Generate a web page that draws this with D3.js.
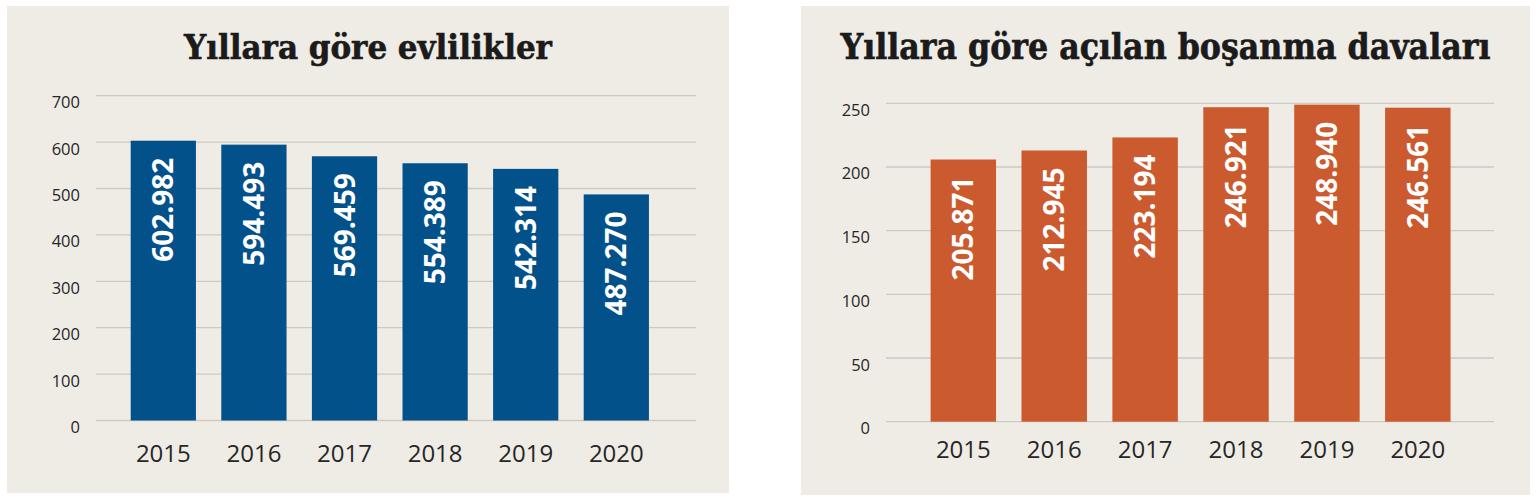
<!DOCTYPE html>
<html>
<head>
<meta charset="utf-8">
<script src="https://cdn.jsdelivr.net/npm/d3@7"></script>
<style>
  html, body { margin: 0; padding: 0; background: #ffffff; }
  svg { display: block; }
</style>
</head>
<body>
<svg id="chart" width="1536" height="501"></svg>
<script>
const years = ["2015", "2016", "2017", "2018", "2019", "2020"];
const marriages = [602982, 594493, 569459, 554389, 542314, 487270];
const divorces = [205871, 212945, 223194, 246921, 248940, 246561];
const marriageTicks = [0, 100, 200, 300, 400, 500, 600, 700];
const divorceTicks = [0, 50, 100, 150, 200, 250];
const titles = ["Yıllara göre evlilikler", "Yıllara göre açılan boşanma davaları"];

const svg = d3.select("#chart");
const fmt = v => d3.format(",")(v).replace(/,/g, ".");

function panel(cfg) {
  const g = svg.append("g");
  g.append("rect")
    .attr("x", cfg.px).attr("y", cfg.py)
    .attr("width", cfg.pw).attr("height", cfg.ph)
    .attr("fill", "#efece6");

  const t = g.append("text")
    .attr("x", cfg.px + cfg.pw / 2).attr("y", 59)
    .attr("text-anchor", "middle")
    .attr("font-family", "'DejaVu Serif Condensed', 'DejaVu Serif', serif")
    .attr("font-weight", "bold")
    .attr("font-size", 36)
    .attr("fill", "#1b1b1b")
    .attr("stroke", "#1b1b1b")
    .attr("stroke-width", 0.6)
    .text(cfg.title);
  const len = t.node().getComputedTextLength();
  if (len > 0) t.attr("font-size", Math.min(40, 36 * cfg.titleLen / len));

  const x = d3.scaleBand().domain(years)
    .range([cfg.bx0 - cfg.step * 0.14, cfg.bx0 - cfg.step * 0.14 + cfg.step * 6])
    .paddingInner(0.28).paddingOuter(0.14);
  const y = d3.scaleLinear().domain([0, cfg.max]).range([cfg.y0, cfg.y1]);

  // gridlines
  g.append("g").selectAll("line").data(cfg.ticks).join("line")
    .attr("x1", cfg.gx0).attr("x2", cfg.gx1)
    .attr("y1", d => y(d)).attr("y2", d => y(d))
    .attr("stroke", "#cdcac4").attr("stroke-width", 1.3);

  // y axis labels
  const yAxis = d3.axisLeft(y).tickValues(cfg.ticks).tickSize(0).tickPadding(0);
  const ya = g.append("g").attr("transform", `translate(${cfg.lx},0)`).call(yAxis);
  ya.select(".domain").remove();
  ya.selectAll("text")
    .attr("font-family", "'Open Sans', sans-serif")
    .attr("font-size", 16.5)
    .attr("fill", "#262626")
    .attr("dy", 12);

  // bars
  g.append("g").selectAll("rect").data(cfg.values).join("rect")
    .attr("x", (d, i) => x(years[i]))
    .attr("width", x.bandwidth())
    .attr("y", d => y(d / 1000))
    .attr("height", d => y(0) - y(d / 1000))
    .attr("fill", cfg.color);

  // bar value labels
  g.append("g").selectAll("text").data(cfg.values).join("text")
    .attr("transform", (d, i) => `translate(${x(years[i]) + x.bandwidth() / 2 + 10},${y(d / 1000) + 17}) rotate(-90)`)
    .attr("text-anchor", "end")
    .attr("font-family", "'Open Sans', sans-serif")
    .attr("font-weight", "bold")
    .attr("font-size", 28)
    .attr("fill", "#ffffff")
    .text(d => fmt(d));

  // x axis labels
  const xAxis = d3.axisBottom(x).tickSize(0).tickPadding(0);
  const xa = g.append("g").attr("transform", `translate(0,${cfg.xly})`).call(xAxis);
  xa.select(".domain").remove();
  xa.selectAll("text")
    .attr("font-family", "'Open Sans', sans-serif")
    .attr("font-size", 24)
    .attr("fill", "#262626")
    .attr("dy", 0);
}

panel({
  px: 7, py: 6, pw: 722, ph: 487,
  title: titles[0], titleLen: 368,
  values: marriages, ticks: marriageTicks, max: 700,
  bx0: 130.7, step: 90.6,
  y0: 420.5, y1: 95.7,
  gx0: 96, gx1: 696, lx: 80,
  xly: 462, color: "#02518b"
});

panel({
  px: 801, py: 6, pw: 729, ph: 489,
  title: titles[1], titleLen: 650,
  values: divorces, ticks: divorceTicks, max: 250,
  bx0: 930.6, step: 90.9,
  y0: 421.7, y1: 103.3,
  gx0: 886, gx1: 1494, lx: 870,
  xly: 458, color: "#cc5a2f"
});
</script>
</body>
</html>
